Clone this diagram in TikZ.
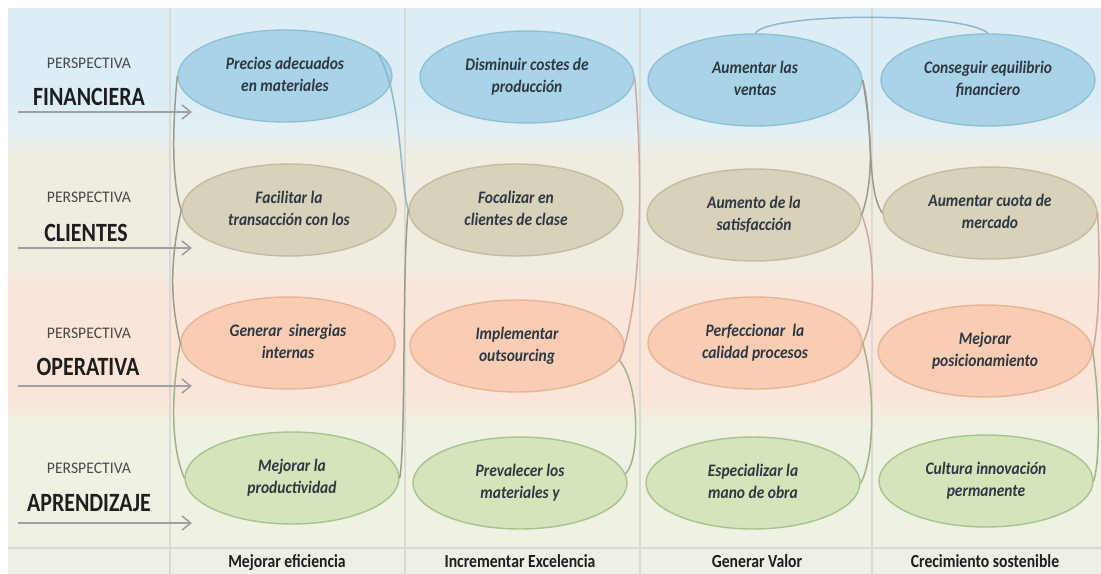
\documentclass[tikz,border=0pt]{standalone}
\usepackage{fontspec}
\usepackage{graphicx}
\setmainfont{Carlito}
\usetikzlibrary{shapes.geometric,arrows.meta}
\definecolor{bandB}{HTML}{DCEDF5}
\definecolor{bandBl}{HTML}{E4F0F3}
\definecolor{bandT}{HTML}{F1ECE0}
\definecolor{bandS}{HTML}{FBE5D8}
\definecolor{bandG}{HTML}{EEF2E3}
\definecolor{bandF}{HTML}{EDF0E5}
\definecolor{sepC}{HTML}{D8DAD6}
\definecolor{fillB}{HTML}{A9D4E7}
\definecolor{drawB}{HTML}{8FC0D6}
\definecolor{fillT}{HTML}{D8D2BA}
\definecolor{drawT}{HTML}{C3BCA0}
\definecolor{fillS}{HTML}{F8CDB4}
\definecolor{drawS}{HTML}{E6B498}
\definecolor{fillG}{HTML}{D5E4BB}
\definecolor{drawG}{HTML}{A8C38B}
\definecolor{etxt}{HTML}{2E3742}
\definecolor{ptxt}{HTML}{4A4A4A}
\definecolor{btxt}{HTML}{1E1E1E}
\definecolor{arrC}{HTML}{A0A0A0}
\definecolor{cBlue}{HTML}{8DB6CB}
\definecolor{cGrey}{HTML}{9C9B8B}
\definecolor{cPink}{HTML}{D0A8A2}
\definecolor{cGreen}{HTML}{A0B287}
\newcommand{\etx}[2]{\scalebox{0.88}[1]{\begin{tabular}{@{}c@{}}#1\\#2\end{tabular}}}
\begin{document}
\begin{tikzpicture}[x=0.02cm,y=-0.02cm,
  ell/.style={ellipse, draw, line width=0.8pt, minimum width=4.28cm, minimum height=1.84cm, inner sep=0pt,
    font=\fontsize{10}{12.5}\selectfont\bfseries\itshape, text=etxt},
  eB/.style={ell, fill=fillB, draw=drawB},
  eT/.style={ell, fill=fillT, draw=drawT},
  eS/.style={ell, fill=fillS, draw=drawS},
  eG/.style={ell, fill=fillG, draw=drawG},
  persp/.style={font=\fontsize{9.2}{10}\selectfont, text=ptxt, inner sep=0pt},
  biglab/.style={font=\fontsize{15}{17}\selectfont\bfseries, text=btxt, inner sep=0pt},
  collab/.style={font=\fontsize{10.5}{12}\selectfont\bfseries, text=btxt, inner sep=0pt, anchor=base},
  arr/.style={draw=arrC, line width=0.9pt, -{Straight Barb[length=5pt,width=8pt]}},
  con/.style={line width=0.85pt},
  sep/.style={draw=sepC, line width=0.6pt}]
\useasboundingbox (0,0) rectangle (1101,574);
\fill[white] (0,0) rectangle (1101,574);
% bands
\fill[bandB] (8,8) rectangle (1101,100);
\shade[top color=bandB, bottom color=bandBl] (8,100) rectangle (1101,132);
\shade[top color=bandBl, bottom color=bandT] (8,132) rectangle (1101,158);
\fill[bandT] (8,158) rectangle (1101,268);
\shade[top color=bandT, bottom color=bandS] (8,268) rectangle (1101,296);
\fill[bandS] (8,296) rectangle (1101,398);
\shade[top color=bandS, bottom color=bandG] (8,398) rectangle (1101,428);
\fill[bandG] (8,428) rectangle (1101,548);
\fill[bandF] (8,548) rectangle (1101,574);
\draw[sep] (8,548) -- (1101,548);
% column separators
\draw[sep] (170,8) -- (170,574);
\draw[sep] (405,8) -- (405,574);
\draw[sep] (640,8) -- (640,574);
\draw[sep] (872,8) -- (872,574);
% left labels
\node[persp] (p1) at (89,63) {\scalebox{0.97}[1]{PERSPECTIVA}};
\node[biglab] (l1) at (89,97) {\scalebox{0.83}[1]{FINANCIERA}};
\node[persp] (p2) at (89,197) {\scalebox{0.97}[1]{PERSPECTIVA}};
\node[biglab] (l2) at (86,233) {\scalebox{0.83}[1]{CLIENTES}};
\node[persp] (p3) at (89,333) {\scalebox{0.97}[1]{PERSPECTIVA}};
\node[biglab] (l3) at (88,367) {\scalebox{0.83}[1]{OPERATIVA}};
\node[persp] (p4) at (89,468) {\scalebox{0.97}[1]{PERSPECTIVA}};
\node[biglab] (l4) at (89,503) {\scalebox{0.83}[1]{APRENDIZAJE}};
% arrows
\coordinate (a1s) at (18,112); \coordinate (a1e) at (192,112);
\coordinate (a2s) at (18,248); \coordinate (a2e) at (192,248);
\coordinate (a3s) at (18,386); \coordinate (a3e) at (192,386);
\coordinate (a4s) at (18,523); \coordinate (a4e) at (192,523);
\draw[arr] (a1s) -- (a1e);
\draw[arr] (a2s) -- (a2e);
\draw[arr] (a3s) -- (a3e);
\draw[arr] (a4s) -- (a4e);
% ellipses
\node[eB] (P1) at (285,76) {\etx{Precios adecuados}{en materiales}};
\node[eB] (D1) at (527,77) {\etx{Disminuir costes de}{producción}};
\node[eB] (A1) at (755,80) {\etx{Aumentar las}{ventas}};
\node[eB] (C1) at (988,80) {\etx{Conseguir equilibrio}{financiero}};
\node[eT] (F2) at (289,210) {\etx{Facilitar la}{transacción con los}};
\node[eT] (Fo2) at (516,210) {\etx{Focalizar en}{clientes de clase}};
\node[eT] (Au2) at (754,215) {\etx{Aumento de la}{satisfacción}};
\node[eT] (Ac2) at (990,213) {\etx{Aumentar cuota de}{mercado}};
\node[eS] (G3) at (288,343) {\etx{Generar\ \ sinergias}{internas}};
\node[eS] (I3) at (517,346) {\etx{Implementar}{outsourcing}};
\node[eS] (Pe3) at (755,343) {\etx{Perfeccionar\ \ la}{calidad procesos}};
\node[eS] (M3) at (985,351) {\etx{Mejorar}{posicionamiento}};
\node[eG] (Mp4) at (292,478) {\etx{Mejorar la}{productividad}};
\node[eG] (Pr4) at (520,483) {\etx{Prevalecer los}{materiales y}};
\node[eG] (E4) at (753,483) {\etx{Especializar la}{mano de obra}};
\node[eG] (Cu4) at (986,481) {\etx{Cultura innovación}{permanente}};
% connectors
\draw[con, cGrey] (P1.west) .. controls (172,130) and (172,185) .. (F2.west);
\draw[con, cGrey] (F2.west) .. controls (170,260) and (170,300) .. (G3.west);
\draw[con, cGreen] (G3.west) .. controls (170,400) and (172,450) .. (Mp4.west);
\draw[con, cBlue] (P1.15) .. controls (402,90) and (400,185) .. (Fo2.west);
\draw[con, cGrey] (Fo2.west) .. controls (402,260) and (406,445) .. (Mp4.east);
\draw[con, cPink] (D1.east) .. controls (642,160) and (644,300) .. (I3.-8);
\draw[con, cGreen] (I3.-8) .. controls (640,385) and (640,460) .. (Pr4.5);
\draw[con, cGrey] (A1.east) .. controls (874,125) and (866,190) .. (Ac2.west);
\draw[con, cGrey] (A1.east) .. controls (872,135) and (874,180) .. (Au2.east);
\draw[con, cPink] (Au2.east) .. controls (876,250) and (876,320) .. (Pe3.east);
\draw[con, cGreen] (Pe3.east) .. controls (876,390) and (874,460) .. (E4.east);
\draw[con, cPink] (Ac2.east) .. controls (1100,260) and (1100,320) .. (M3.east);
\draw[con, cGreen] (M3.east) .. controls (1100,400) and (1100,460) .. (Cu4.east);
\draw[con, cBlue] (A1.north) .. controls (770,12) and (965,12) .. (C1.north);
% column labels
\node[collab] (c1) at (287,567) {\scalebox{0.85}[1]{Mejorar eficiencia}};
\node[collab] (c2) at (520,567) {\scalebox{0.85}[1]{Incrementar Excelencia}};
\node[collab] (c3) at (757,567) {\scalebox{0.85}[1]{Generar Valor}};
\node[collab] (c4) at (985,567) {\scalebox{0.85}[1]{Crecimiento sostenible}};
\end{tikzpicture}
\end{document}
